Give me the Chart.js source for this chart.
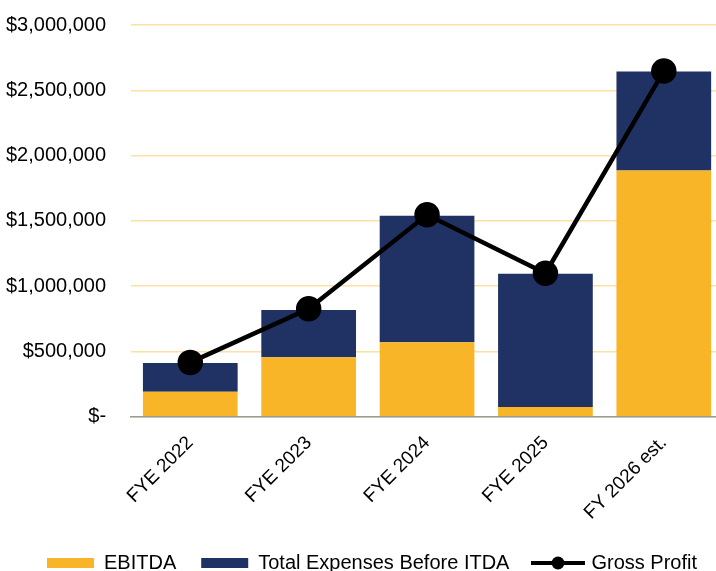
<!DOCTYPE html>
<html>
<head>
<meta charset="utf-8">
<script src="https://cdn.jsdelivr.net/npm/chart.js@4"></script>
<style>
  html, body { margin: 0; padding: 0; background: #fff; overflow: hidden; }
  #wrap { position: relative; width: 738px; height: 571px; }
</style>
</head>
<body>
<div id="wrap"><canvas id="chart"></canvas></div>
<script>
// data
const years = ['FYE 2022', 'FYE 2023', 'FYE 2024', 'FYE 2025', 'FY 2026 est.'];
const ebitda = [192000, 455000, 570000, 74000, 1886000];
const expenses = [220000, 363000, 969000, 1020000, 757000];
const grossProfit = [416000, 826000, 1546000, 1099000, 2647000];

const GOLD = '#F7B527';
const NAVY = '#203264';
const FONT = 'Liberation Sans, Arial, sans-serif';

// legend marker for the line series: a short line with a dot
const lineMark = document.createElement('canvas');
lineMark.width = 56;
lineMark.height = 16;
const lc = lineMark.getContext('2d');
lc.strokeStyle = '#000';
lc.fillStyle = '#000';
lc.lineWidth = 4;
lc.beginPath(); lc.moveTo(1, 8); lc.lineTo(55, 8); lc.stroke();
lc.beginPath(); lc.arc(28, 8, 6.5, 0, Math.PI * 2); lc.fill();

const ctx = document.getElementById('chart').getContext('2d');
new Chart(ctx, {
    type: 'bar',
    data: {
        labels: years,
        datasets: [
            { label: 'EBITDA', data: ebitda, backgroundColor: GOLD, stack: 'a', order: 2 },
            { label: 'Total Expenses Before ITDA', data: expenses, backgroundColor: NAVY, stack: 'a', order: 2 },
            {
                type: 'line', label: 'Gross Profit', data: grossProfit, stack: 'gp', order: 0,
                borderColor: '#000', backgroundColor: '#000', borderWidth: 4.5,
                pointRadius: 10.5, pointHoverRadius: 10.5, pointBackgroundColor: '#000',
                tension: 0
            }
        ]
    },
    options: {
        responsive: true,
        maintainAspectRatio: false,
        animation: false,
        layout: { padding: { top: 25, left: 6, right: 0, bottom: -12 } },
        datasets: { bar: { categoryPercentage: 0.8, barPercentage: 1.0, borderWidth: 0 } },
        scales: {
            x: {
                stacked: true,
                grid: { display: false, drawTicks: false },
                border: { display: true, color: '#999999', width: 1.5 },
                ticks: {
                    color: '#000', font: { family: FONT, size: 19 },
                    maxRotation: 45, minRotation: 45, autoSkip: false, padding: 15
                },
                afterFit: s => {
                    s.paddingLeft = 0;
                    s.paddingRight = 14;
                    s.height -= 11;
                }
            },
            y: {
                stacked: true,
                min: 0, max: 3000000,
                grid: { color: '#FBE1A2', lineWidth: 1.5, drawTicks: false },
                border: { display: false },
                ticks: {
                    stepSize: 500000, padding: 25, color: '#000',
                    font: { family: FONT, size: 20 },
                    callback: v => v === 0 ? '$-' : '$' + v.toLocaleString('en-US')
                },
                afterFit: s => {
                    s.paddingTop = 10;
                    s.paddingBottom = 10;
                    s.width -= 25;
                }
            }
        },
        plugins: {
            tooltip: { enabled: false },
            legend: {
                position: 'bottom',
                labels: {
                    color: '#000',
                    font: { family: FONT, size: 20 },
                    usePointStyle: true,
                    pointStyleWidth: 47,
                    boxHeight: 10,
                    padding: 25,
                    sort: (a, b) => a.datasetIndex - b.datasetIndex,
                    generateLabels: chart => {
                        const items = Chart.defaults.plugins.legend.labels.generateLabels(chart);
                        items.forEach(it => {
                            if (it.datasetIndex === 2) {
                                it.pointStyle = lineMark;
                            } else {
                                it.pointStyle = 'rect';
                                it.lineWidth = 0;
                            }
                        });
                        return items;
                    }
                }
            }
        }
    }
});
</script>
</body>
</html>
